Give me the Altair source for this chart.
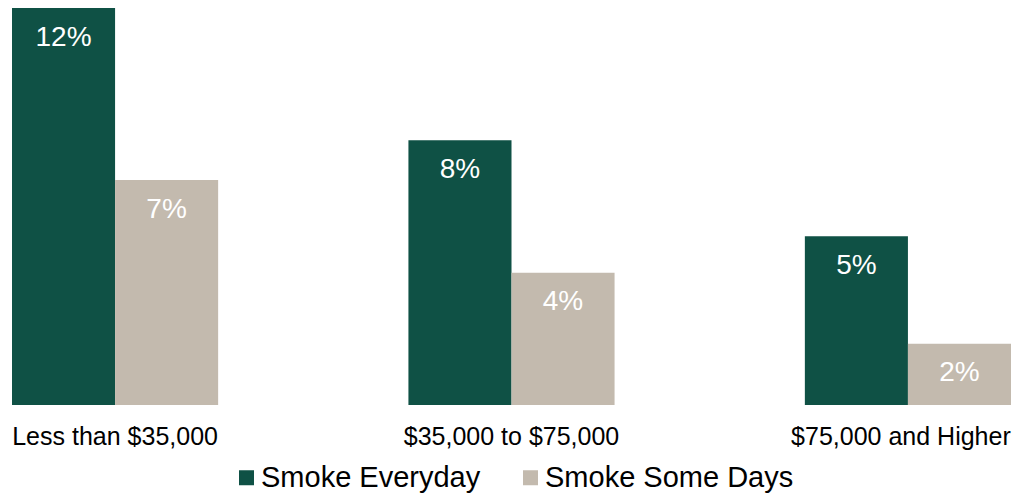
import altair as alt
import pandas as pd

categories = ["Less than $35,000", "$35,000 to $75,000", "$75,000 and Higher"]
series = ["Smoke Everyday", "Smoke Some Days"]
everyday = [12.0, 8.0, 5.1]
somedays = [6.8, 4.0, 1.85]
everyday_labels = ["12%", "8%", "5%"]
somedays_labels = ["7%", "4%", "2%"]
colors = ["#0F5145", "#C3BAAE"]

rows = []
for i, c in enumerate(categories):
    rows.append({"category": c, "series": series[0], "value": everyday[i], "label": everyday_labels[i]})
    rows.append({"category": c, "series": series[1], "value": somedays[i], "label": somedays_labels[i]})
df = pd.DataFrame(rows)

FONT = "Liberation Sans"

base = alt.Chart(df).encode(
    x=alt.X(
        "category:N",
        sort=categories,
        scale=alt.Scale(paddingInner=0.48, paddingOuter=0),
        axis=alt.Axis(
            title=None, labelAngle=0, ticks=False, tickSize=0, domain=False,
            labelFontSize=25, labelFont=FONT, labelColor="#000000",
            labelPadding=19, labelBaseline="top", labelLimit=400,
            labelOffset=alt.condition(
                f"datum.value == '{categories[-1]}'", alt.value(-7), alt.value(0)
            ),
        ),
    ),
    xOffset=alt.XOffset("series:N", sort=series, scale=alt.Scale(paddingInner=0, paddingOuter=0)),
    y=alt.Y("value:Q", scale=alt.Scale(domain=[0, 12], nice=False, zero=True), axis=None),
)

bars = base.mark_bar().encode(
    color=alt.Color(
        "series:N",
        sort=series,
        scale=alt.Scale(domain=series, range=colors),
        legend=alt.Legend(
            title=None, orient="none", legendX=220, legendY=455, direction="horizontal",
            symbolType="square", symbolSize=225, symbolStrokeWidth=0,
            labelFontSize=29, labelFont=FONT, labelColor="#000000", labelLimit=400,
            labelOffset=0, columnPadding=35, padding=0,
        ),
    )
)

text = base.mark_text(
    color="white", fontSize=28, font=FONT, baseline="middle", align="center", dy=29.5
).encode(text="label:N")

chart = (
    alt.layer(bars, text)
    .properties(
        width=999, height=397,
        padding={"left": 4, "top": 0, "right": 4, "bottom": 89},
        autosize=alt.AutoSizeParams(type="none"),
    )
    .configure_view(stroke=None)
)

chart.save("out.html", embed_options={"renderer": "svg", "actions": False})
